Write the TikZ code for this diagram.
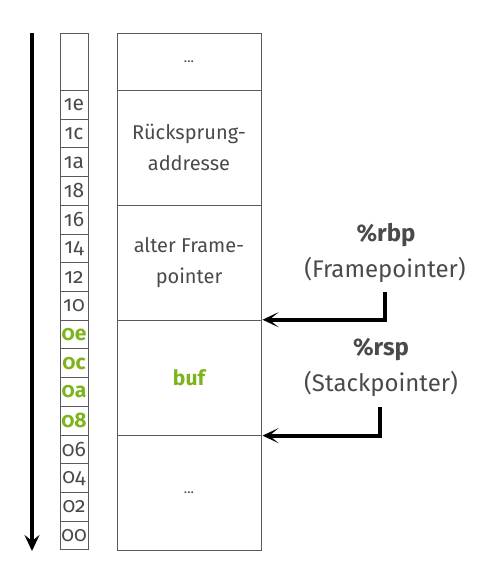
\documentclass[tikz,border=0pt]{standalone}
\usepackage{fontspec}
\setmainfont{Fira Sans}[Numbers=OldStyle]
\usetikzlibrary{arrows.meta}
\definecolor{txt}{HTML}{4A4A4A}
\definecolor{grn}{HTML}{7DB41C}
\definecolor{brd}{HTML}{5A5A5A}
\begin{document}
\begin{tikzpicture}[x=1pt,y=-1pt,
  addr/.style={draw=brd, line width=1pt, minimum width=28pt, minimum height=28.72pt, inner sep=0pt, text=txt, font=\fontsize{21}{23}\selectfont},
  addrg/.style={addr, text=grn, font=\fontsize{21}{23}\selectfont\bfseries},
  blk/.style={draw=brd, line width=1pt, minimum width=144pt, inner sep=0pt, text=txt, align=center, font=\fontsize{20}{31}\selectfont},
  lbl/.style={text=txt, inner sep=0pt, font=\fontsize{24}{28}\selectfont},
  ptr/.style={line width=4pt, -{Stealth[length=16pt,width=15pt,inset=9pt]}},
  big/.style={line width=4.5pt, -{Stealth[length=16pt,width=15pt,inset=6pt]}}
]
\useasboundingbox (0,0) rectangle (480,587);
% address column
\def\u{28.722}
\node[addr, minimum height=57.44pt] (atop) at (74,61.72) {};
\foreach \lab [count=\i from 0] in {1e,1c,1a,18,16,14,12,10}{
  \node[addr] (a\lab) at (74,{90.44+(\i+0.5)*\u}) {\lab};
}
\foreach \lab [count=\i from 8] in {0e,0c,0a,08}{
  \node[addrg] (a\lab) at (74,{90.44+(\i+0.5)*\u}) {\lab};
}
\foreach \lab [count=\i from 12] in {06,04,02,00}{
  \node[addr] (a\lab) at (74,{90.44+(\i+0.5)*\u}) {\lab};
}
% main blocks
\node[blk, minimum height=57.44pt] (dtop) at (189,61.72) {\fontsize{14}{16}\selectfont ...};
\node[blk, minimum height=114.89pt] (ret) at (189,147.88) {Rücksprung-\\addresse};
\node[blk, minimum height=114.89pt] (fp) at (189,262.77) {alter Frame-\\pointer};
\node[blk, minimum height=114.89pt, text=grn, font=\fontsize{21}{24}\selectfont\bfseries] (buf) at (189,377.66) {buf};
\node[blk, minimum height=114.89pt] (dbot) at (189,492.55) {\fontsize{14}{16}\selectfont ...};
% direction arrow
\coordinate (dirs) at (32,33);
\coordinate (dire) at (32,551);
\draw[big] (dirs) -- (dire);
% pointer labels
\node[lbl, font=\fontsize{24}{28}\selectfont\bfseries] (rbp) at (386,235) {\%rbp};
\node[lbl] (rbpd) at (385,270) {(Framepointer)};
\node[lbl, font=\fontsize{24}{28}\selectfont\bfseries] (rsp) at (381,350) {\%rsp};
\node[lbl] (rspd) at (381,384) {(Stackpointer)};
\coordinate (rbps) at (385,292);
\coordinate (rsps) at (380,407);
\draw[ptr] (rbps) |- ([xshift=1pt]buf.north east);
\draw[ptr] (rsps) |- ([xshift=1pt]buf.south east);
\end{tikzpicture}
\end{document}
